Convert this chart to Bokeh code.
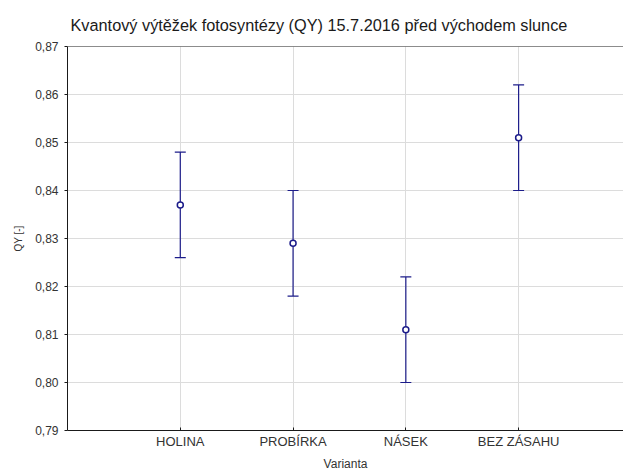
from bokeh.plotting import figure
from bokeh.models import Range1d, FixedTicker, CustomJSTickFormatter, Whisker, TeeHead, ColumnDataSource, Span
from bokeh.embed import file_html
from bokeh.resources import INLINE

title = "Kvantový výtěžek fotosyntézy (QY) 15.7.2016 před východem slunce"
categories = ["HOLINA", "PROBÍRKA", "NÁSEK", "BEZ ZÁSAHU"]
means = [0.837, 0.829, 0.811, 0.851]
upper = [0.848, 0.840, 0.822, 0.862]
lower = [0.826, 0.818, 0.800, 0.840]
y_ticks = [0.79, 0.80, 0.81, 0.82, 0.83, 0.84, 0.85, 0.86, 0.87]

xpos = list(range(1, len(categories) + 1))
src = ColumnDataSource(dict(x=xpos, m=means, u=upper, l=lower))

FONT = "Liberation Sans"
p = figure(width=623, height=473, output_backend="svg", toolbar_location=None,
           x_range=Range1d(0, 4.93), y_range=Range1d(0.79, 0.87),
           min_border_left=67, min_border_right=0, min_border_top=44, min_border_bottom=43,
           title=title)
p.title.text_font = FONT
p.title.text_font_size = "16.3px"
p.title.text_font_style = "normal"
p.title.text_color = "#1a1a1a"
p.title.align = "left"
p.title.offset = 3
p.title.standoff = 26

p.outline_line_color = None
p.background_fill_color = "white"
p.border_fill_color = "white"

p.xaxis.ticker = FixedTicker(ticks=xpos)
p.xaxis.major_label_overrides = {i: c for i, c in zip(xpos, categories)}
p.xaxis.minor_tick_line_color = None
p.xaxis.major_tick_in = 3
p.xaxis.major_tick_out = 0
p.xaxis.axis_label = "Varianta"
p.xaxis.axis_label_standoff = 5
p.xaxis.major_label_standoff = 3
p.xaxis.major_label_text_font_size = "13px"
p.xaxis.axis_label_text_font_size = "12px"

p.yaxis.ticker = FixedTicker(ticks=y_ticks)
p.yaxis.formatter = CustomJSTickFormatter(code="return tick.toFixed(2).replace('.', ',');")
p.yaxis.minor_tick_line_color = None
p.yaxis.major_tick_in = 0
p.yaxis.major_tick_out = 3
p.yaxis.axis_label = "QY [-]"
p.yaxis.axis_label_standoff = 8
p.yaxis.major_label_standoff = 6
p.yaxis.major_label_text_font_size = "12px"
p.yaxis.axis_label_text_font_size = "10px"

for ax in (p.xaxis, p.yaxis):
    ax.axis_line_color = "#1a1a1a"
    ax.major_tick_line_color = "#1a1a1a"
    ax.major_label_text_font = FONT
    ax.major_label_text_color = "#333333"
    ax.axis_label_text_font = FONT
    ax.axis_label_text_font_style = "normal"
    ax.axis_label_text_color = "#333333"

p.xgrid.ticker = FixedTicker(ticks=xpos)
p.ygrid.ticker = FixedTicker(ticks=y_ticks)
p.grid.grid_line_color = "#dcdcdc"
p.grid.grid_line_width = 1

p.add_layout(Span(location=0.87, dimension="width", line_color="#1a1a1a", line_width=1))

navy = "#1c1c8a"
w = Whisker(source=src, base="x", upper="u", lower="l", line_color=navy, line_width=1.2,
            upper_head=TeeHead(size=11, line_color=navy, line_width=1.2),
            lower_head=TeeHead(size=11, line_color=navy, line_width=1.2))
p.add_layout(w)
p.scatter("x", "m", source=src, marker="circle", size=6, fill_color="white",
          line_color=navy, line_width=1.5)

open("out.html", "w").write(file_html(p, INLINE))
